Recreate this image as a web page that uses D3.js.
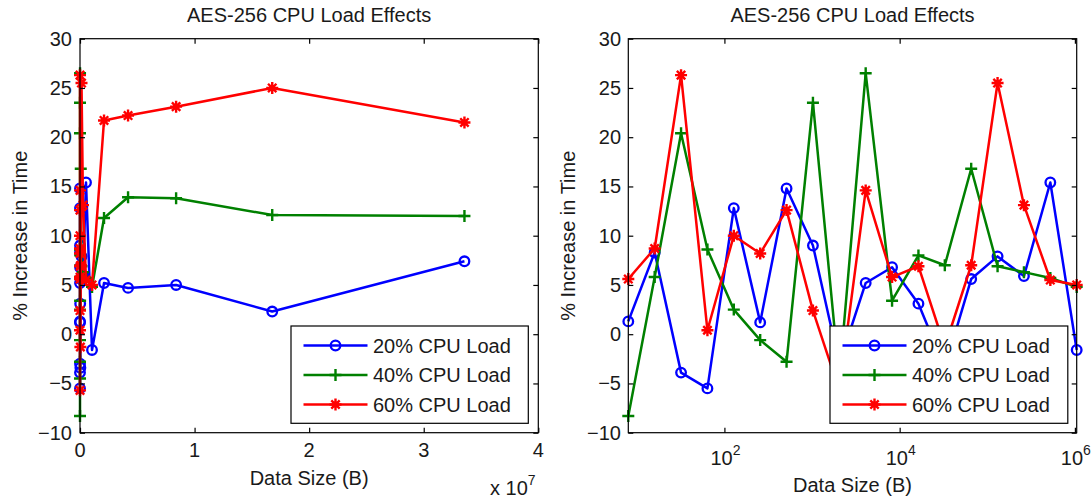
<!DOCTYPE html>
<html>
<head>
<meta charset="utf-8">
<script src="https://cdn.jsdelivr.net/npm/d3@7"></script>
<style>
  html, body { margin: 0; padding: 0; background: #fff; }
  svg text { font-family: "Liberation Sans", Arial, Helvetica, sans-serif; fill: #1a1a1a; }
</style>
</head>
<body>
<svg id="chart" width="1091" height="502"></svg>
<script>
// ---- data ----
const dataSizes = [8, 16, 32, 64, 128, 256, 512, 1024, 2048, 4096, 8192, 16384, 32768, 65536,
  131072, 262144, 524288, 1048576, 2097152, 4194304, 8388608, 16777216, 33554432];
const load20 = [1.3, 8.3, -3.9, -5.5, 12.8, 1.2, 14.8, 9.0, -3.0, 5.2, 6.8, 3.1, -3.4, 5.6,
  7.9, 5.9, 15.4, -1.6, 5.2, 4.7, 5.0, 2.3, 7.4];
const load40 = [-8.3, 5.8, 20.4, 8.6, 2.5, -0.6, -2.8, 23.5, -4.5, 26.5, 3.4, 8.0, 7.0, 16.8,
  6.9, 6.3, 5.7, 4.8, 11.8, 13.9, 13.8, 12.1, 12.0];
const load60 = [5.6, 8.7, 26.3, 0.4, 10.0, 8.2, 12.6, 2.4, -5.7, 14.6, 5.8, 6.9, -1.3, 7.0,
  25.5, 13.1, 5.5, 5.0, 21.7, 22.2, 23.1, 25.0, 21.5];
const seriesNames = ["20% CPU Load", "40% CPU Load", "60% CPU Load"];
const yTicks = [-10, -5, 0, 5, 10, 15, 20, 25, 30];
const xTicksLinear = [0, 1e7, 2e7, 3e7, 4e7];
const xTickLabelsLinear = ["0", "1", "2", "3", "4"];
const xTicksLog = [1e2, 1e4, 1e6];
const xTickExpLog = ["2", "4", "6"];
const titleText = "AES-256 CPU Load Effects";
const xLabelText = "Data Size (B)";
const yLabelText = "% Increase in Time";

// ---- styles ----
const colors = ["#0000ff", "#008000", "#ff0000"];
const markers = ["circle", "plus", "star"];
const FS = 20;
const LW = 2.5;
const svg = d3.select("#chart");
const allSeries = [load20, load40, load60];

function drawMarker(g, type, x, y, color) {
  if (type === "circle") {
    g.append("circle").attr("cx", x).attr("cy", y).attr("r", 4.8)
      .attr("fill", "none").attr("stroke", color).attr("stroke-width", 2.3);
  } else if (type === "plus") {
    const s = 6;
    g.append("path").attr("d", `M${x - s},${y}H${x + s}M${x},${y - s}V${y + s}`)
      .attr("stroke", color).attr("stroke-width", 2.4).attr("fill", "none");
  } else {
    const s = 6, d = 4.2;
    g.append("circle").attr("cx", x).attr("cy", y).attr("r", 3).attr("fill", color);
    g.append("path").attr("d",
      `M${x - s},${y}H${x + s}M${x},${y - s}V${y + s}M${x - d},${y - d}L${x + d},${y + d}M${x - d},${y + d}L${x + d},${y - d}`)
      .attr("stroke", color).attr("stroke-width", 2.4).attr("fill", "none");
  }
}

function drawPanel(opt) {
  const { x0, x1, y0, y1, xScale, logX, ylabelX, ytickPad, xlabelY, maxX, legend } = opt;
  const yScale = d3.scaleLinear().domain([-10, 30]).range([y1, y0]);
  const g = svg.append("g");

  // title
  g.append("text").attr("x", (x0 + x1) / 2).attr("y", 22).attr("text-anchor", "middle")
    .attr("font-size", FS).text(titleText);

  // series
  const idx = dataSizes.map((d, i) => i).filter(i => dataSizes[i] <= maxX);
  allSeries.forEach((vals, s) => {
    const line = d3.line().x(i => xScale(dataSizes[i])).y(i => yScale(vals[i]));
    g.append("path").attr("d", line(idx)).attr("fill", "none")
      .attr("stroke", colors[s]).attr("stroke-width", LW).attr("stroke-linejoin", "round");
    idx.forEach(i => drawMarker(g, markers[s], xScale(dataSizes[i]), yScale(vals[i]), colors[s]));
  });

  // axes box
  g.append("rect").attr("x", x0).attr("y", y0).attr("width", x1 - x0).attr("height", y1 - y0)
    .attr("fill", "none").attr("stroke", "#000").attr("stroke-width", 1.2);

  const xt = logX ? xTicksLog : xTicksLinear;
  const axB = g.append("g").attr("transform", `translate(0,${y1})`)
    .call(d3.axisBottom(xScale).tickValues(xt).tickSize(-5).tickFormat(""));
  const axT = g.append("g").attr("transform", `translate(0,${y0})`)
    .call(d3.axisTop(xScale).tickValues(xt).tickSize(-5).tickFormat(""));
  const axL = g.append("g").attr("transform", `translate(${x0},0)`)
    .call(d3.axisLeft(yScale).tickValues(yTicks).tickSize(-5).tickPadding(ytickPad).tickFormat(d3.format("d")));
  const axR = g.append("g").attr("transform", `translate(${x1},0)`)
    .call(d3.axisRight(yScale).tickValues(yTicks).tickSize(-5).tickFormat(""));
  [axB, axT, axL, axR].forEach(a => {
    a.select(".domain").remove();
    a.selectAll("line").attr("stroke", "#000").attr("stroke-width", 1.2);
  });
  axL.selectAll("text").attr("font-size", FS).attr("font-family", null).attr("fill", "#1a1a1a");

  // x tick labels
  if (!logX) {
    xTicksLinear.forEach((v, i) => {
      g.append("text").attr("x", xScale(v)).attr("y", 457).attr("text-anchor", "middle")
        .attr("font-size", FS).text(xTickLabelsLinear[i]);
    });
    const t = g.append("text").attr("x", 490).attr("y", 495).attr("font-size", FS);
    t.append("tspan").text("x 10");
    t.append("tspan").attr("font-size", 14).attr("dy", -10).text("7");
  } else {
    xTicksLog.forEach((v, i) => {
      const t = g.append("text").attr("x", xScale(v) + 1).attr("y", 465).attr("text-anchor", "middle")
        .attr("font-size", FS);
      t.append("tspan").text("10");
      t.append("tspan").attr("font-size", 14).attr("dy", -10).text(xTickExpLog[i]);
    });
  }

  // axis labels
  g.append("text").attr("x", (x0 + x1) / 2).attr("y", xlabelY).attr("text-anchor", "middle")
    .attr("font-size", FS).text(xLabelText);
  g.append("text").attr("transform", `translate(${ylabelX},${(y0 + y1) / 2}) rotate(-90)`)
    .attr("text-anchor", "middle").attr("font-size", FS).text(yLabelText);

  // legend
  const L = legend;
  const lg = g.append("g");
  lg.append("rect").attr("x", L.x).attr("y", L.y).attr("width", L.w).attr("height", L.h)
    .attr("fill", "#fff").attr("stroke", "#000").attr("stroke-width", 1.2);
  seriesNames.forEach((name, s) => {
    const cy = L.y + 19.5 + s * 29.5;
    lg.append("line").attr("x1", L.x + 12.5).attr("x2", L.x + 76.5).attr("y1", cy).attr("y2", cy)
      .attr("stroke", colors[s]).attr("stroke-width", LW);
    drawMarker(lg, markers[s], L.x + 44.5, cy, colors[s]);
    lg.append("text").attr("x", L.x + 82).attr("y", cy + 7).attr("font-size", FS).text(name);
  });
}

// left panel (linear)
drawPanel({
  x0: 80, x1: 538.3, y0: 38.7, y1: 432.7,
  xScale: d3.scaleLinear().domain([0, 4e7]).range([80, 538.3]),
  logX: false, ylabelX: 27, ytickPad: 8, xlabelY: 485, maxX: Infinity,
  legend: { x: 291, y: 326, w: 237.3, h: 97.3 }
});

// right panel (log)
drawPanel({
  x0: 628.3, x1: 1076.7, y0: 38.7, y1: 432.7,
  xScale: d3.scaleLog().domain([8, 1048576]).range([628.3, 1076.7]),
  logX: true, ylabelX: 575, ytickPad: 7.3, xlabelY: 492, maxX: 1048576,
  legend: { x: 830, y: 326, w: 237.8, h: 97.3 }
});
</script>
</body>
</html>
